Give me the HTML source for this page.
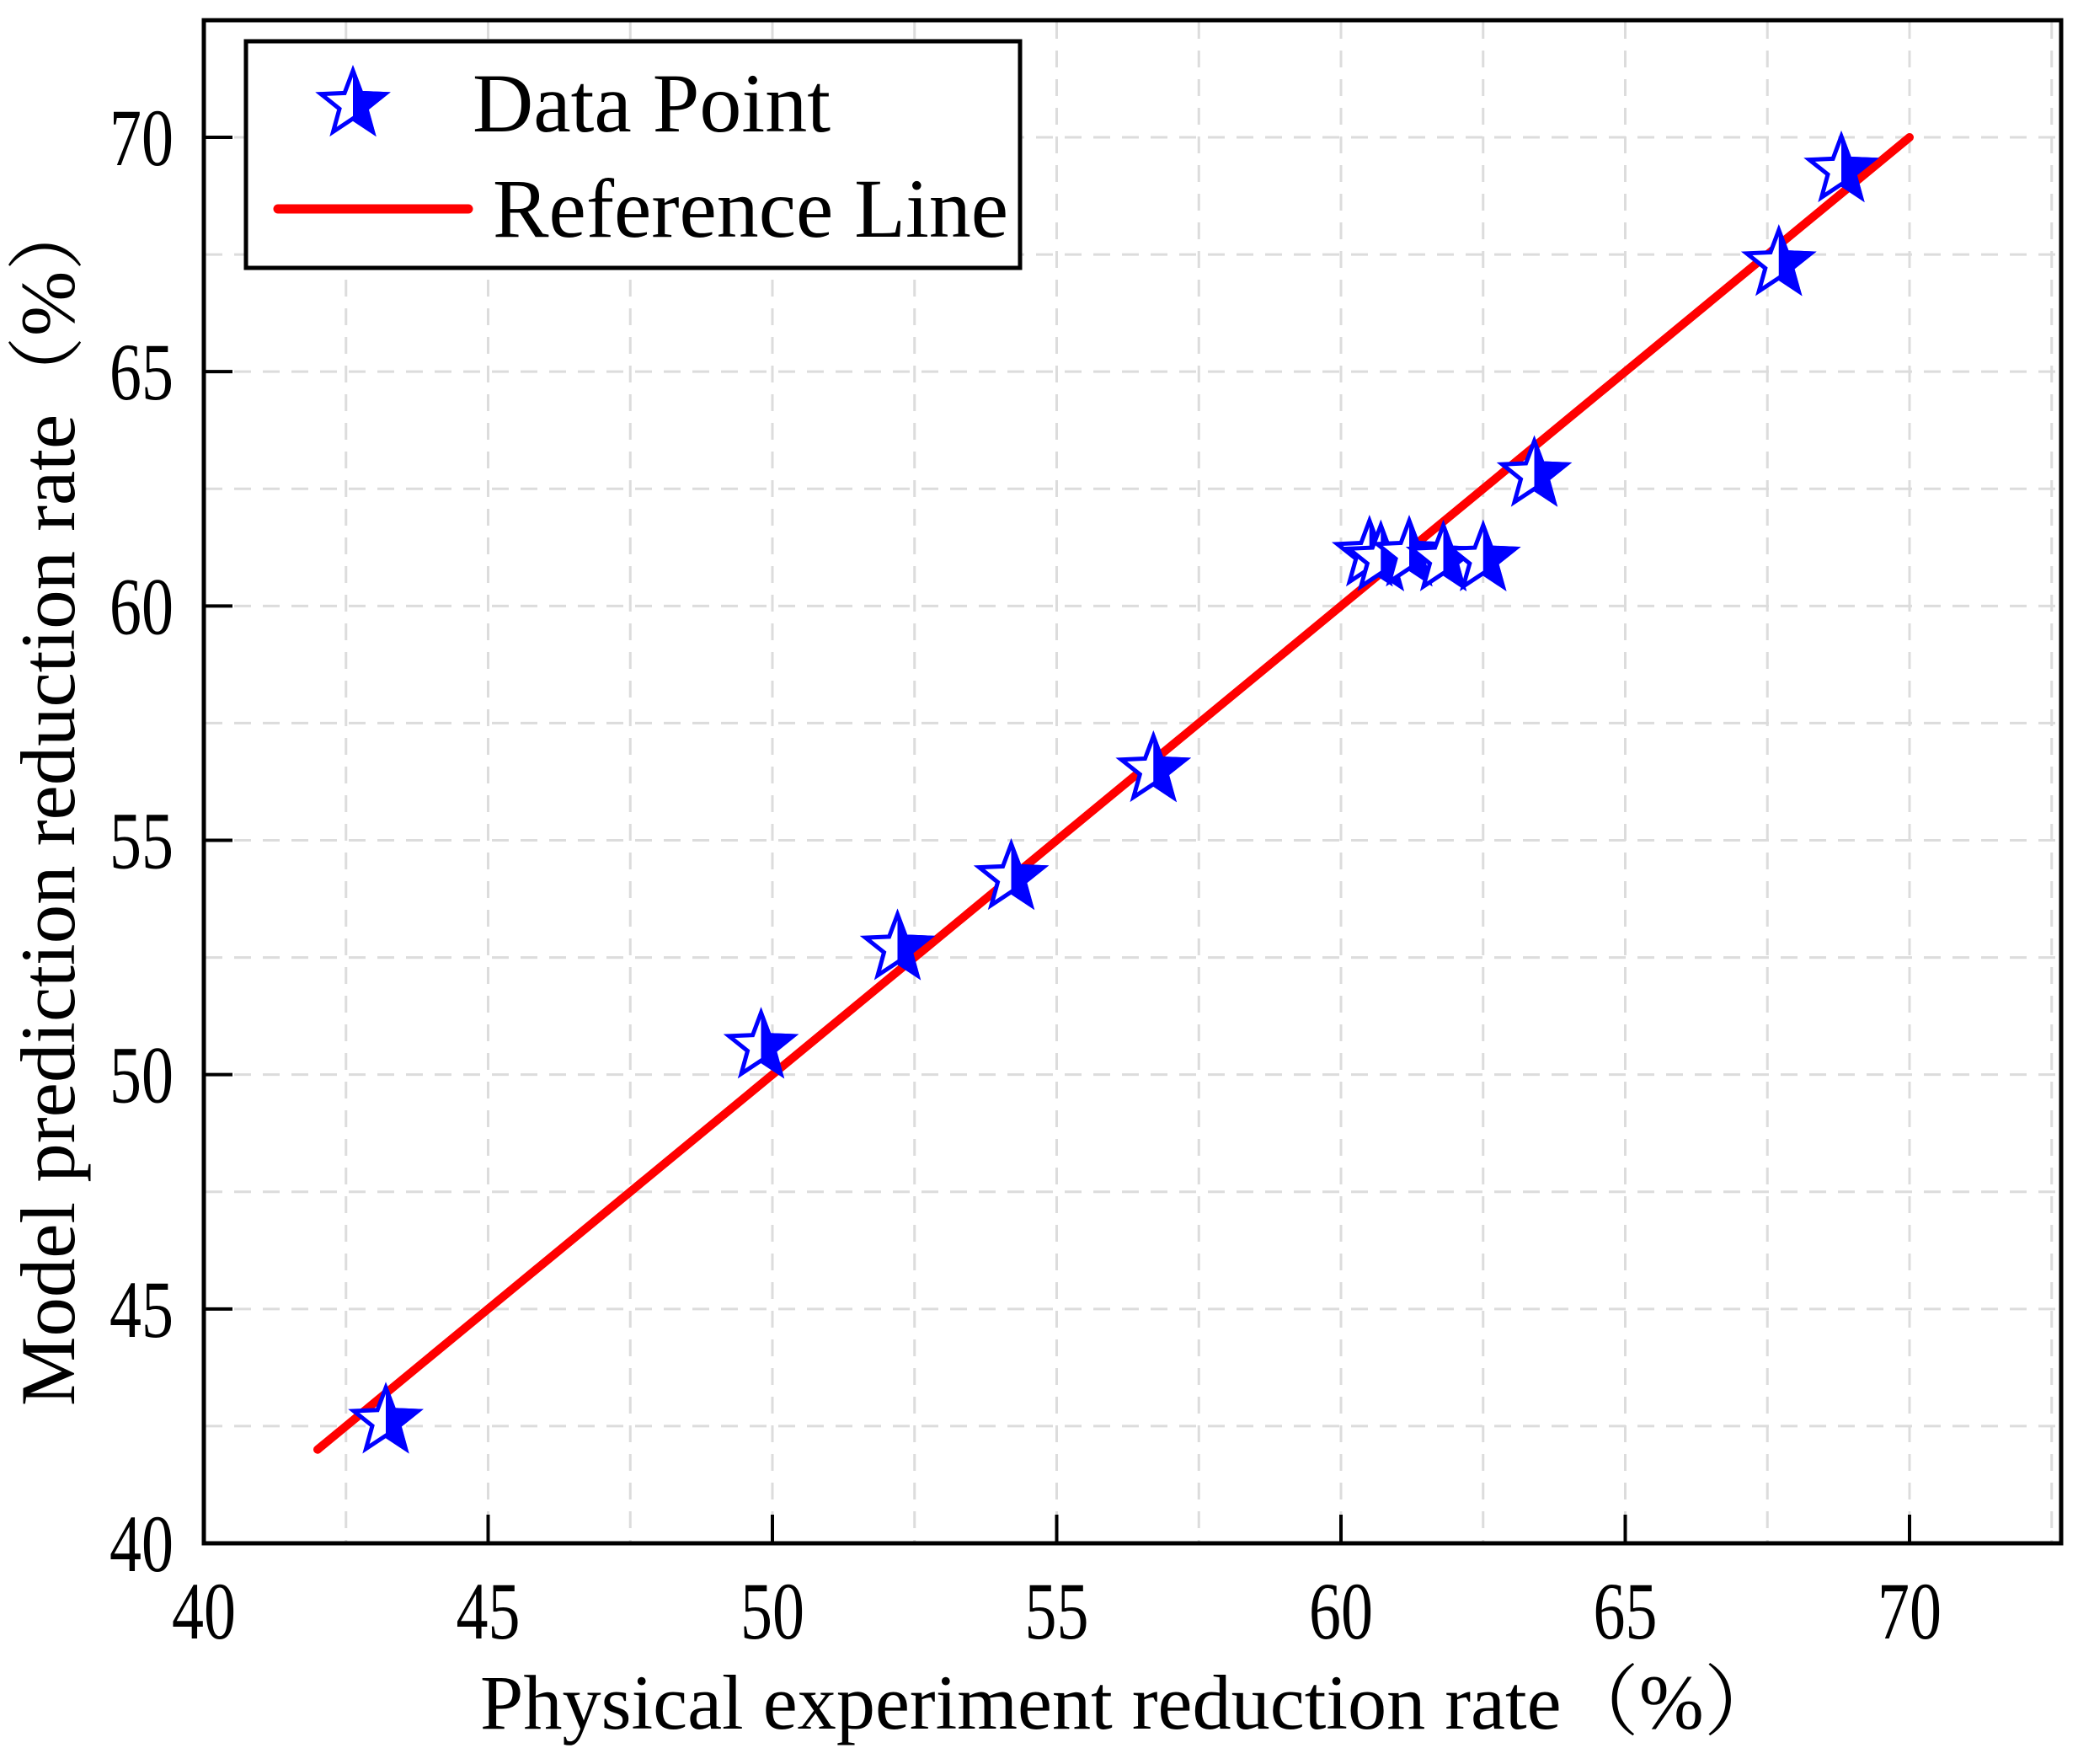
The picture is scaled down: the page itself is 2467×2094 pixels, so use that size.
<!DOCTYPE html>
<html><head><meta charset="utf-8"><style>
html,body{margin:0;padding:0;background:#fff;}
svg{display:block;font-family:"Liberation Serif","Noto Serif CJK SC",serif;}
</style></head><body>
<svg id="chart" width="2467" height="2094" viewBox="0 0 2467 2094" xmlns="http://www.w3.org/2000/svg">
<rect width="2467" height="2094" fill="#fff"/>
<g id="grid"></g>
<g id="ticks"></g>
<g id="refline"></g>
<g id="points"></g>
<rect x="242" y="24" width="2205" height="1808" fill="none" stroke="#000" stroke-width="5"/>
<text x="570" y="2052" font-size="92" textLength="1545" lengthAdjust="spacingAndGlyphs">Physical experiment reduction rate（%）</text>
<text transform="translate(88,949) rotate(-90)" x="0" y="0" text-anchor="middle" font-size="92" textLength="1440" lengthAdjust="spacingAndGlyphs">Model prediction reduction rate（%）</text>
<g>
<rect x="292" y="49" width="919" height="269" fill="#fff" stroke="#000" stroke-width="5"/>
<g id="legendStar"></g>
<text x="561" y="156" font-size="100" textLength="425" lengthAdjust="spacingAndGlyphs">Data Point</text>
<line x1="330" y1="248" x2="556" y2="248" stroke="#f00" stroke-width="11" stroke-linecap="round"/>
<text x="585" y="281" font-size="100" textLength="612" lengthAdjust="spacingAndGlyphs">Reference Line</text>
</g>
</svg>
<script>
const xTicks = [40, 45, 50, 55, 60, 65, 70];
const yTicks = [40, 45, 50, 55, 60, 65, 70];
const gridValues = [42.5, 45, 47.5, 50, 52.5, 55, 57.5, 60, 62.5, 65, 67.5, 70, 72.5];
const refLine = [42, 70];
const xValues = [43.2, 49.8, 52.2, 54.2, 56.7, 60.5, 60.7, 61.2, 61.8, 62.5, 63.4, 67.7, 68.8];
const yValues = [42.6, 50.6, 52.7, 54.2, 56.5, 61.1, 61.0, 61.1, 61.0, 61.0, 62.8, 67.3, 69.3];

const NS = 'http://www.w3.org/2000/svg';
const X0 = 242, X1 = 2267, Y0 = 1832, Y1 = 163;
function sx(v){ return X0 + (v - 40) * (X1 - X0) / 30; }
function sy(v){ return Y0 - (v - 40) * (Y0 - Y1) / 30; }
function mk(tag, attrs, parent){
  const e = document.createElementNS(NS, tag);
  for (const k in attrs) e.setAttribute(k, attrs[k]);
  parent.appendChild(e);
  return e;
}
const grid = document.getElementById('grid');
gridValues.forEach(v => {
  const gx = sx(v);
  if (gx > X0 + 2 && gx < 2445) {
    const l = mk('line', {x1: gx, y1: 26, x2: gx, y2: Y0 - 2, stroke: '#dcdcdc', 'stroke-width': 3, 'stroke-dasharray': '20 14'}, grid);
    
    
  }
  const gy = sy(v);
  if (gy > 26 && gy < Y0 - 2) {
    const l = mk('line', {x1: 244, y1: gy, x2: 2445, y2: gy, stroke: '#dcdcdc', 'stroke-width': 3, 'stroke-dasharray': '20 14'}, grid);
    
    
  }
});
const ticks = document.getElementById('ticks');
xTicks.forEach(v => {
  const t = mk('line', {x1: sx(v), y1: Y0, x2: sx(v), y2: Y0 - 34, stroke: '#000', 'stroke-width': 4}, ticks);
  
  
  const lb = mk('text', {x: sx(v), y: 1945, 'text-anchor': 'middle', 'font-size': 96, textLength: 76, lengthAdjust: 'spacingAndGlyphs'}, ticks);
  lb.textContent = v;
  
  
});
yTicks.forEach(v => {
  const t = mk('line', {x1: X0, y1: sy(v), x2: X0 + 34, y2: sy(v), stroke: '#000', 'stroke-width': 4}, ticks);
  
  
  const lb = mk('text', {x: 130, y: sy(v) + 33, 'font-size': 96, textLength: 76, lengthAdjust: 'spacingAndGlyphs'}, ticks);
  lb.textContent = v;
  
  
});
const rl = document.getElementById('refline');
const ln = mk('line', {x1: sx(refLine[0]), y1: sy(refLine[0]), x2: sx(refLine[1]), y2: sy(refLine[1]), stroke: '#f00', 'stroke-width': 10, 'stroke-linecap': 'round'}, rl);



function starPath(cx, cy, R){
  const r = R * 0.42; let d = '';
  for (let i = 0; i < 10; i++) {
    const a = -Math.PI/2 + i * Math.PI / 5;
    const rr = i % 2 ? r : R;
    d += (i ? 'L' : 'M') + (cx + rr * Math.cos(a)).toFixed(1) + ',' + (cy + rr * Math.sin(a)).toFixed(1);
  }
  return d + 'Z';
}
let clipId = 0;
function drawStar(parent, cx, cy, R, name){
  const g = mk('g', {}, parent);
  
  
  const id = 'clip' + (clipId++);
  const cp = mk('clipPath', {id: id}, g);
  mk('rect', {x: cx, y: cy - R - 5, width: R + 5, height: 2 * R + 10}, cp);
  mk('path', {d: starPath(cx, cy, R), fill: '#fff', stroke: '#0000ff', 'stroke-width': 5, 'stroke-linejoin': 'miter'}, g);
  mk('path', {d: starPath(cx, cy, R), fill: '#0000ff', stroke: '#0000ff', 'stroke-width': 5, 'clip-path': 'url(#' + id + ')'}, g);
}
const pts = document.getElementById('points');
xValues.forEach((v, i) => { drawStar(pts, sx(v), sy(yValues[i]), 40, 'data-point'); });
drawStar(document.getElementById('legendStar'), 419, 124, 40, 'legend-star');
</script>
</body></html>
